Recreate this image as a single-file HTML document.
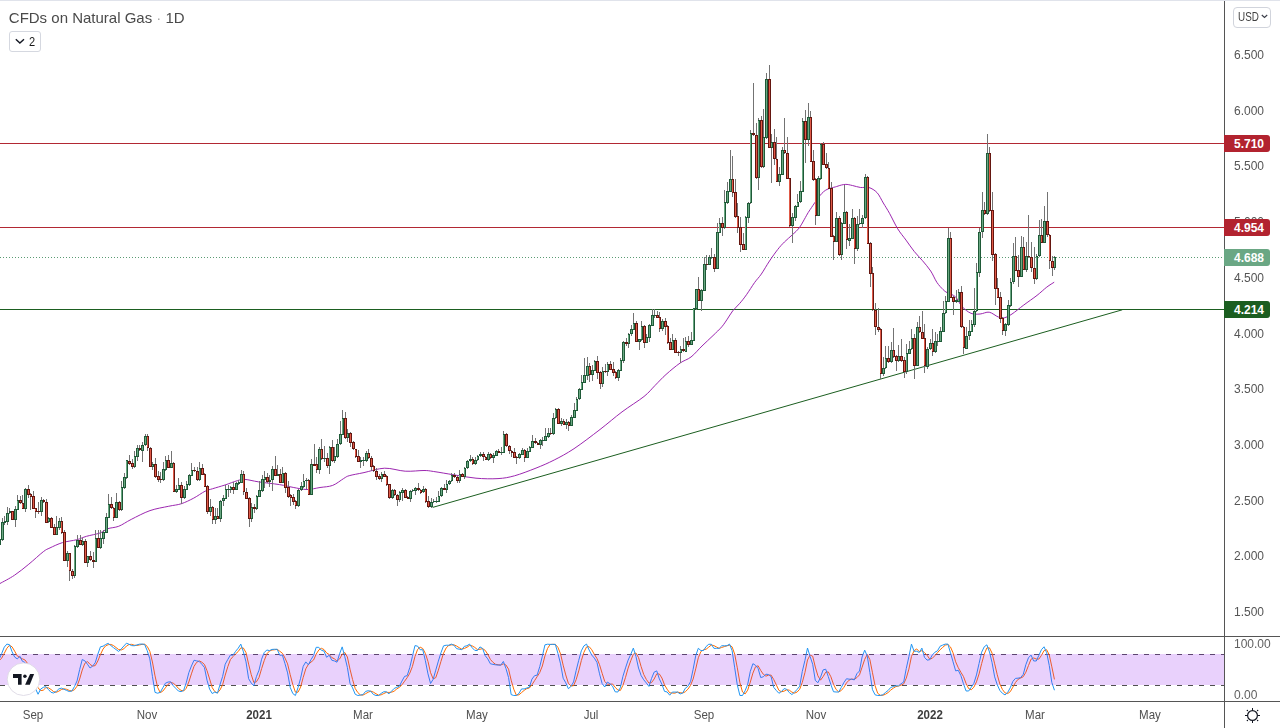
<!DOCTYPE html>
<html><head><meta charset="utf-8"><style>
*{margin:0;padding:0;box-sizing:border-box}
html,body{width:1280px;height:728px;overflow:hidden;background:#fff;font-family:"Liberation Sans",sans-serif}
#wrap{position:relative;width:1280px;height:728px}
.title,.pl,.tl,.sl,.btn .n,.usd span{filter:grayscale(1)}
.topb{position:absolute;left:0;top:0;width:1280px;height:1px;background:#e0e3eb}
.title{position:absolute;left:8.8px;top:9px;font-size:15px;color:#4a4a4f;white-space:nowrap}
.btn{position:absolute;left:9px;top:31px;width:32px;height:21px;border:1px solid #d5d8e0;border-radius:3px;font-size:14px;color:#131722}
.btn .n{position:absolute;left:19.3px;top:2px;font-size:13px;line-height:15px;transform:scaleX(0.85);transform-origin:0 0}
.btn svg{position:absolute;left:4.5px;top:5.6px}
svg.main{position:absolute;left:0;top:0}
.vax{position:absolute;left:1224px;top:1px;width:1px;height:727px;background:#555}
.h1{position:absolute;left:0;top:636px;width:1280px;height:1px;background:#555}
.h2{position:absolute;left:0;top:701px;width:1280px;height:1px;background:#555}
.pl{position:absolute;left:1234px;font-size:12px;color:#555;line-height:14px}
.bd{position:absolute;left:1224px;width:46px;height:17px;border-radius:0 3px 3px 0;color:#fff;font-weight:bold;font-size:12px;line-height:17px;padding-left:10px;padding-top:1px}
.usd{position:absolute;left:1233px;top:7px;width:38px;height:21px;border:1px solid #d1d4dc;border-radius:4px}
.usd span{position:absolute;left:4px;top:2px;font-size:12.5px;line-height:14px;color:#3c3f4a;transform:scaleX(0.79);transform-origin:0 0}
.tl{position:absolute;top:707.5px;width:40px;text-align:center;font-size:12.4px;color:#505050;line-height:14px;transform:scaleX(0.93)}
.sl{position:absolute;left:1234px;font-size:12px;color:#5d606b;line-height:14px}
.logo{position:absolute;left:8px;top:663px;width:32px;height:32px;border-radius:50%;background:#fff;border:1px solid #e6e6ea}
</style></head><body><div id="wrap">
<svg class="main" width="1224" height="728" viewBox="0 0 1224 728">
<defs><clipPath id="cm"><rect x="0" y="1" width="1224" height="635"/></clipPath><clipPath id="cs"><rect x="0" y="637" width="1224" height="64"/></clipPath></defs>
<g clip-path="url(#cm)"><line x1="0" y1="143.5" x2="1224" y2="143.5" stroke="#b22833" stroke-width="1"/><line x1="0" y1="227.5" x2="1224" y2="227.5" stroke="#b22833" stroke-width="1"/><line x1="0" y1="309.5" x2="1224" y2="309.5" stroke="#1b5e20" stroke-width="1"/><line x1="0" y1="257.5" x2="1224" y2="257.5" stroke="#5a9b73" stroke-width="1" stroke-dasharray="1 2" shape-rendering="crispEdges"/><line x1="432.7" y1="507.4" x2="1122.3" y2="309.8" stroke="#1b5e20" stroke-width="1"/><path d="M0.00 583.50C2.40 582.13 9.60 578.52 14.40 575.30C19.20 572.08 23.98 568.13 28.80 564.20C33.62 560.27 39.77 554.42 43.30 551.70C46.83 548.98 46.80 549.42 50.00 547.90C53.20 546.38 58.02 543.97 62.50 542.60C66.98 541.23 72.90 540.75 76.90 539.70C80.90 538.65 82.65 537.42 86.50 536.30C90.35 535.18 96.50 534.26 100.00 533.00C103.50 531.74 104.38 529.88 107.50 528.75C110.62 527.62 114.79 527.81 118.75 526.25C122.71 524.69 126.04 522.01 131.25 519.40C136.46 516.79 143.75 512.79 150.00 510.60C156.25 508.41 163.54 507.39 168.75 506.25C173.96 505.11 177.08 505.11 181.25 503.75C185.42 502.39 189.79 500.18 193.75 498.10C197.71 496.02 201.88 492.81 205.00 491.25C208.12 489.69 209.17 489.79 212.50 488.75C215.83 487.71 220.83 486.36 225.00 485.00C229.17 483.64 234.17 481.53 237.50 480.60C240.83 479.67 241.46 479.18 245.00 479.40C248.54 479.62 253.00 481.03 258.75 481.90C264.50 482.77 273.76 483.68 279.50 484.60C285.24 485.52 288.62 486.58 293.20 487.40C297.78 488.22 302.53 489.48 307.00 489.50C311.47 489.52 315.72 488.18 320.00 487.50C324.28 486.82 328.75 486.90 332.70 485.40C336.65 483.90 340.95 480.12 343.70 478.50C346.45 476.88 345.82 476.68 349.20 475.70C352.58 474.72 358.10 473.85 364.00 472.60C369.90 471.35 377.73 468.43 384.60 468.20C391.47 467.97 398.63 470.82 405.20 471.20C411.77 471.58 419.25 470.45 424.00 470.50C428.75 470.55 428.65 470.77 433.70 471.50C438.75 472.23 447.25 473.78 454.30 474.90C461.35 476.02 468.72 477.58 476.00 478.20C483.28 478.82 491.58 479.00 498.00 478.60C504.42 478.20 508.17 477.55 514.50 475.80C520.83 474.05 529.38 470.73 536.00 468.10C542.62 465.47 547.87 463.23 554.20 460.00C560.53 456.77 566.37 453.78 574.00 448.70C581.63 443.62 592.00 435.63 600.00 429.50C608.00 423.37 614.67 417.40 622.00 411.90C629.33 406.40 638.50 400.90 644.00 396.50C649.50 392.10 651.33 389.17 655.00 385.50C658.67 381.83 661.83 378.23 666.00 374.50C670.17 370.77 675.83 366.02 680.00 363.10C684.17 360.18 687.33 359.85 691.00 357.00C694.67 354.15 698.33 349.57 702.00 346.00C705.67 342.43 709.70 338.80 713.00 335.60C716.30 332.40 719.42 329.55 721.80 326.80C724.18 324.05 725.48 321.75 727.30 319.10C729.12 316.45 730.60 313.55 732.70 310.90C734.80 308.25 737.60 305.90 739.90 303.20C742.20 300.50 744.03 298.17 746.50 294.70C748.97 291.23 752.23 285.83 754.70 282.40C757.17 278.97 758.83 277.67 761.30 274.10C763.77 270.53 766.75 265.12 769.50 261.00C772.25 256.88 775.32 252.57 777.80 249.40C780.28 246.23 781.93 244.47 784.40 242.00C786.87 239.53 790.13 236.93 792.60 234.60C795.07 232.27 797.28 230.47 799.20 228.00C801.12 225.53 802.27 222.88 804.10 219.80C805.93 216.72 806.95 214.18 810.20 209.50C813.45 204.82 819.18 195.53 823.60 191.70C828.02 187.87 833.10 187.72 836.70 186.50C840.30 185.28 842.58 184.57 845.20 184.40C847.82 184.23 849.83 184.98 852.40 185.50C854.97 186.02 857.85 187.17 860.60 187.50C863.35 187.83 866.15 186.63 868.90 187.50C871.65 188.37 874.70 190.12 877.10 192.70C879.50 195.28 881.23 199.57 883.30 203.00C885.37 206.43 887.10 209.00 889.50 213.30C891.90 217.60 894.95 224.33 897.70 228.80C900.45 233.27 903.25 236.33 906.00 240.10C908.75 243.87 911.45 247.97 914.20 251.40C916.95 254.83 919.75 257.43 922.50 260.70C925.25 263.97 928.30 267.38 930.70 271.00C933.10 274.62 934.83 279.30 936.90 282.40C938.97 285.50 941.38 287.88 943.10 289.60C944.82 291.32 945.13 291.50 947.20 292.70C949.27 293.90 953.03 294.50 955.50 296.80C957.97 299.10 959.42 303.75 962.00 306.50C964.58 309.25 967.98 312.05 971.00 313.30C974.02 314.55 977.07 314.18 980.10 314.00C983.13 313.82 986.17 311.70 989.20 312.20C992.23 312.70 995.78 316.07 998.30 317.00C1000.82 317.93 1002.02 318.30 1004.30 317.80C1006.58 317.30 1008.75 316.13 1012.00 314.00C1015.25 311.87 1019.63 308.10 1023.80 305.00C1027.97 301.90 1033.17 298.38 1037.00 295.40C1040.83 292.42 1043.93 289.30 1046.80 287.10C1049.67 284.90 1052.97 283.02 1054.20 282.20" fill="none" stroke="#9c27b0" stroke-width="1"/><g shape-rendering="crispEdges"><g fill="#737373"><rect x="-1" y="538" width="1" height="7"/><rect x="2" y="518" width="1" height="23"/><rect x="4" y="516" width="1" height="9"/><rect x="7" y="507" width="1" height="18"/><rect x="9" y="508" width="1" height="6"/><rect x="12" y="511" width="1" height="9"/><rect x="15" y="506" width="1" height="21"/><rect x="17" y="495" width="1" height="15"/><rect x="20" y="496" width="1" height="8"/><rect x="22" y="495" width="1" height="14"/><rect x="25" y="488" width="1" height="24"/><rect x="28" y="485" width="1" height="13"/><rect x="30" y="493" width="1" height="17"/><rect x="33" y="491" width="1" height="18"/><rect x="35" y="508" width="1" height="10"/><rect x="38" y="502" width="1" height="12"/><rect x="41" y="497" width="1" height="19"/><rect x="43" y="499" width="1" height="4"/><rect x="46" y="499" width="1" height="24"/><rect x="48" y="517" width="1" height="6"/><rect x="51" y="517" width="1" height="11"/><rect x="54" y="524" width="1" height="11"/><rect x="56" y="516" width="1" height="19"/><rect x="59" y="518" width="1" height="12"/><rect x="61" y="517" width="1" height="17"/><rect x="64" y="530" width="1" height="31"/><rect x="67" y="551" width="1" height="16"/><rect x="69" y="553" width="1" height="28"/><rect x="72" y="569" width="1" height="10"/><rect x="74" y="545" width="1" height="33"/><rect x="77" y="535" width="1" height="13"/><rect x="80" y="535" width="1" height="10"/><rect x="82" y="538" width="1" height="8"/><rect x="85" y="539" width="1" height="24"/><rect x="87" y="556" width="1" height="11"/><rect x="90" y="551" width="1" height="10"/><rect x="93" y="552" width="1" height="16"/><rect x="95" y="530" width="1" height="32"/><rect x="98" y="530" width="1" height="18"/><rect x="100" y="530" width="1" height="19"/><rect x="103" y="530" width="1" height="14"/><rect x="106" y="513" width="1" height="20"/><rect x="108" y="494" width="1" height="24"/><rect x="111" y="497" width="1" height="12"/><rect x="113" y="507" width="1" height="14"/><rect x="116" y="493" width="1" height="25"/><rect x="119" y="501" width="1" height="10"/><rect x="121" y="481" width="1" height="30"/><rect x="124" y="473" width="1" height="16"/><rect x="126" y="460" width="1" height="19"/><rect x="129" y="455" width="1" height="10"/><rect x="132" y="459" width="1" height="10"/><rect x="134" y="451" width="1" height="17"/><rect x="137" y="445" width="1" height="16"/><rect x="139" y="445" width="1" height="6"/><rect x="142" y="442" width="1" height="20"/><rect x="145" y="434" width="1" height="12"/><rect x="147" y="434" width="1" height="17"/><rect x="150" y="447" width="1" height="20"/><rect x="152" y="462" width="1" height="8"/><rect x="155" y="458" width="1" height="20"/><rect x="158" y="471" width="1" height="11"/><rect x="160" y="472" width="1" height="11"/><rect x="163" y="462" width="1" height="19"/><rect x="165" y="456" width="1" height="15"/><rect x="168" y="455" width="1" height="13"/><rect x="171" y="451" width="1" height="17"/><rect x="173" y="462" width="1" height="30"/><rect x="176" y="485" width="1" height="8"/><rect x="178" y="478" width="1" height="12"/><rect x="181" y="482" width="1" height="22"/><rect x="184" y="486" width="1" height="13"/><rect x="186" y="481" width="1" height="9"/><rect x="189" y="474" width="1" height="12"/><rect x="191" y="463" width="1" height="13"/><rect x="194" y="467" width="1" height="5"/><rect x="197" y="467" width="1" height="14"/><rect x="199" y="462" width="1" height="19"/><rect x="202" y="464" width="1" height="11"/><rect x="204" y="473" width="1" height="14"/><rect x="207" y="485" width="1" height="29"/><rect x="210" y="499" width="1" height="17"/><rect x="212" y="506" width="1" height="18"/><rect x="215" y="508" width="1" height="16"/><rect x="217" y="508" width="1" height="11"/><rect x="220" y="500" width="1" height="22"/><rect x="223" y="495" width="1" height="11"/><rect x="225" y="485" width="1" height="14"/><rect x="228" y="485" width="1" height="12"/><rect x="230" y="486" width="1" height="7"/><rect x="233" y="482" width="1" height="12"/><rect x="236" y="482" width="1" height="8"/><rect x="238" y="480" width="1" height="5"/><rect x="241" y="470" width="1" height="13"/><rect x="243" y="471" width="1" height="24"/><rect x="246" y="488" width="1" height="11"/><rect x="249" y="497" width="1" height="30"/><rect x="251" y="503" width="1" height="19"/><rect x="254" y="504" width="1" height="9"/><rect x="256" y="495" width="1" height="15"/><rect x="259" y="481" width="1" height="16"/><rect x="262" y="475" width="1" height="17"/><rect x="264" y="471" width="1" height="17"/><rect x="267" y="473" width="1" height="10"/><rect x="269" y="475" width="1" height="12"/><rect x="272" y="466" width="1" height="25"/><rect x="275" y="456" width="1" height="20"/><rect x="277" y="465" width="1" height="11"/><rect x="280" y="469" width="1" height="14"/><rect x="282" y="467" width="1" height="16"/><rect x="285" y="472" width="1" height="21"/><rect x="288" y="481" width="1" height="17"/><rect x="290" y="494" width="1" height="12"/><rect x="293" y="494" width="1" height="11"/><rect x="295" y="500" width="1" height="9"/><rect x="298" y="489" width="1" height="18"/><rect x="301" y="482" width="1" height="9"/><rect x="303" y="474" width="1" height="14"/><rect x="306" y="478" width="1" height="11"/><rect x="308" y="479" width="1" height="16"/><rect x="311" y="459" width="1" height="36"/><rect x="314" y="444" width="1" height="22"/><rect x="316" y="457" width="1" height="16"/><rect x="319" y="447" width="1" height="27"/><rect x="321" y="439" width="1" height="21"/><rect x="324" y="446" width="1" height="16"/><rect x="327" y="453" width="1" height="15"/><rect x="329" y="446" width="1" height="28"/><rect x="332" y="440" width="1" height="22"/><rect x="334" y="447" width="1" height="16"/><rect x="337" y="439" width="1" height="19"/><rect x="340" y="421" width="1" height="24"/><rect x="342" y="410" width="1" height="25"/><rect x="345" y="412" width="1" height="27"/><rect x="347" y="429" width="1" height="13"/><rect x="350" y="432" width="1" height="15"/><rect x="353" y="441" width="1" height="9"/><rect x="355" y="449" width="1" height="9"/><rect x="358" y="450" width="1" height="12"/><rect x="360" y="457" width="1" height="11"/><rect x="363" y="457" width="1" height="9"/><rect x="366" y="451" width="1" height="11"/><rect x="368" y="449" width="1" height="10"/><rect x="371" y="456" width="1" height="15"/><rect x="373" y="465" width="1" height="7"/><rect x="376" y="468" width="1" height="12"/><rect x="379" y="474" width="1" height="6"/><rect x="381" y="472" width="1" height="10"/><rect x="384" y="471" width="1" height="6"/><rect x="386" y="475" width="1" height="11"/><rect x="389" y="484" width="1" height="15"/><rect x="392" y="489" width="1" height="10"/><rect x="394" y="489" width="1" height="7"/><rect x="397" y="494" width="1" height="12"/><rect x="399" y="491" width="1" height="11"/><rect x="402" y="488" width="1" height="13"/><rect x="405" y="489" width="1" height="9"/><rect x="407" y="496" width="1" height="3"/><rect x="410" y="490" width="1" height="12"/><rect x="412" y="489" width="1" height="3"/><rect x="415" y="487" width="1" height="8"/><rect x="418" y="483" width="1" height="8"/><rect x="420" y="489" width="1" height="5"/><rect x="423" y="486" width="1" height="7"/><rect x="425" y="488" width="1" height="15"/><rect x="428" y="496" width="1" height="12"/><rect x="431" y="498" width="1" height="10"/><rect x="433" y="499" width="1" height="4"/><rect x="436" y="497" width="1" height="6"/><rect x="438" y="491" width="1" height="11"/><rect x="441" y="487" width="1" height="10"/><rect x="444" y="484" width="1" height="6"/><rect x="446" y="480" width="1" height="13"/><rect x="449" y="480" width="1" height="5"/><rect x="451" y="473" width="1" height="9"/><rect x="454" y="473" width="1" height="5"/><rect x="457" y="476" width="1" height="7"/><rect x="459" y="470" width="1" height="13"/><rect x="462" y="473" width="1" height="4"/><rect x="464" y="467" width="1" height="12"/><rect x="467" y="460" width="1" height="9"/><rect x="470" y="455" width="1" height="7"/><rect x="472" y="457" width="1" height="8"/><rect x="475" y="457" width="1" height="8"/><rect x="477" y="455" width="1" height="6"/><rect x="480" y="452" width="1" height="5"/><rect x="483" y="452" width="1" height="9"/><rect x="485" y="456" width="1" height="4"/><rect x="488" y="452" width="1" height="9"/><rect x="490" y="453" width="1" height="6"/><rect x="493" y="453" width="1" height="10"/><rect x="496" y="450" width="1" height="6"/><rect x="498" y="449" width="1" height="4"/><rect x="501" y="447" width="1" height="8"/><rect x="503" y="431" width="1" height="22"/><rect x="506" y="433" width="1" height="14"/><rect x="509" y="445" width="1" height="9"/><rect x="511" y="450" width="1" height="7"/><rect x="514" y="448" width="1" height="10"/><rect x="516" y="456" width="1" height="8"/><rect x="519" y="453" width="1" height="6"/><rect x="522" y="448" width="1" height="7"/><rect x="524" y="449" width="1" height="13"/><rect x="527" y="448" width="1" height="10"/><rect x="529" y="446" width="1" height="6"/><rect x="532" y="435" width="1" height="13"/><rect x="535" y="438" width="1" height="6"/><rect x="537" y="442" width="1" height="3"/><rect x="540" y="439" width="1" height="10"/><rect x="542" y="437" width="1" height="9"/><rect x="545" y="428" width="1" height="13"/><rect x="548" y="428" width="1" height="10"/><rect x="550" y="428" width="1" height="7"/><rect x="553" y="413" width="1" height="22"/><rect x="555" y="408" width="1" height="11"/><rect x="558" y="408" width="1" height="16"/><rect x="561" y="418" width="1" height="8"/><rect x="563" y="419" width="1" height="6"/><rect x="566" y="419" width="1" height="10"/><rect x="568" y="421" width="1" height="10"/><rect x="571" y="415" width="1" height="11"/><rect x="574" y="403" width="1" height="15"/><rect x="576" y="397" width="1" height="14"/><rect x="579" y="388" width="1" height="12"/><rect x="581" y="375" width="1" height="15"/><rect x="584" y="358" width="1" height="25"/><rect x="587" y="357" width="1" height="23"/><rect x="589" y="363" width="1" height="19"/><rect x="592" y="365" width="1" height="16"/><rect x="594" y="360" width="1" height="11"/><rect x="597" y="356" width="1" height="23"/><rect x="600" y="371" width="1" height="18"/><rect x="602" y="367" width="1" height="20"/><rect x="605" y="364" width="1" height="9"/><rect x="607" y="362" width="1" height="14"/><rect x="610" y="361" width="1" height="9"/><rect x="613" y="362" width="1" height="14"/><rect x="615" y="371" width="1" height="8"/><rect x="618" y="369" width="1" height="12"/><rect x="620" y="358" width="1" height="13"/><rect x="623" y="341" width="1" height="22"/><rect x="626" y="338" width="1" height="8"/><rect x="628" y="333" width="1" height="15"/><rect x="631" y="325" width="1" height="11"/><rect x="633" y="313" width="1" height="17"/><rect x="636" y="321" width="1" height="21"/><rect x="639" y="339" width="1" height="11"/><rect x="641" y="321" width="1" height="20"/><rect x="644" y="325" width="1" height="23"/><rect x="646" y="334" width="1" height="9"/><rect x="649" y="324" width="1" height="18"/><rect x="652" y="309" width="1" height="17"/><rect x="654" y="309" width="1" height="9"/><rect x="657" y="311" width="1" height="7"/><rect x="659" y="312" width="1" height="20"/><rect x="662" y="319" width="1" height="12"/><rect x="665" y="318" width="1" height="17"/><rect x="667" y="325" width="1" height="19"/><rect x="670" y="338" width="1" height="12"/><rect x="672" y="334" width="1" height="16"/><rect x="675" y="338" width="1" height="15"/><rect x="678" y="351" width="1" height="5"/><rect x="680" y="346" width="1" height="17"/><rect x="683" y="338" width="1" height="14"/><rect x="685" y="337" width="1" height="15"/><rect x="688" y="336" width="1" height="11"/><rect x="691" y="332" width="1" height="13"/><rect x="693" y="308" width="1" height="33"/><rect x="696" y="289" width="1" height="21"/><rect x="698" y="277" width="1" height="24"/><rect x="701" y="289" width="1" height="22"/><rect x="704" y="257" width="1" height="34"/><rect x="706" y="255" width="1" height="15"/><rect x="709" y="255" width="1" height="10"/><rect x="711" y="248" width="1" height="11"/><rect x="714" y="254" width="1" height="18"/><rect x="717" y="223" width="1" height="46"/><rect x="719" y="218" width="1" height="15"/><rect x="722" y="217" width="1" height="19"/><rect x="724" y="190" width="1" height="39"/><rect x="727" y="182" width="1" height="22"/><rect x="730" y="150" width="1" height="42"/><rect x="732" y="156" width="1" height="41"/><rect x="735" y="179" width="1" height="39"/><rect x="737" y="203" width="1" height="30"/><rect x="740" y="217" width="1" height="35"/><rect x="743" y="233" width="1" height="17"/><rect x="745" y="216" width="1" height="34"/><rect x="748" y="202" width="1" height="21"/><rect x="750" y="130" width="1" height="74"/><rect x="753" y="83" width="1" height="53"/><rect x="756" y="123" width="1" height="56"/><rect x="758" y="118" width="1" height="72"/><rect x="761" y="116" width="1" height="52"/><rect x="763" y="109" width="1" height="59"/><rect x="766" y="73" width="1" height="66"/><rect x="769" y="65" width="1" height="83"/><rect x="771" y="134" width="1" height="49"/><rect x="774" y="129" width="1" height="36"/><rect x="776" y="137" width="1" height="45"/><rect x="779" y="167" width="1" height="19"/><rect x="782" y="147" width="1" height="28"/><rect x="784" y="118" width="1" height="36"/><rect x="787" y="137" width="1" height="42"/><rect x="789" y="178" width="1" height="49"/><rect x="792" y="213" width="1" height="30"/><rect x="795" y="205" width="1" height="16"/><rect x="797" y="194" width="1" height="13"/><rect x="800" y="181" width="1" height="22"/><rect x="802" y="118" width="1" height="74"/><rect x="805" y="110" width="1" height="53"/><rect x="808" y="103" width="1" height="43"/><rect x="810" y="111" width="1" height="51"/><rect x="813" y="150" width="1" height="31"/><rect x="815" y="178" width="1" height="47"/><rect x="818" y="176" width="1" height="40"/><rect x="820" y="143" width="1" height="37"/><rect x="823" y="142" width="1" height="23"/><rect x="826" y="153" width="1" height="16"/><rect x="828" y="162" width="1" height="27"/><rect x="831" y="182" width="1" height="55"/><rect x="833" y="235" width="1" height="25"/><rect x="836" y="212" width="1" height="30"/><rect x="839" y="216" width="1" height="40"/><rect x="841" y="222" width="1" height="38"/><rect x="844" y="185" width="1" height="39"/><rect x="846" y="211" width="1" height="38"/><rect x="849" y="224" width="1" height="22"/><rect x="852" y="209" width="1" height="30"/><rect x="854" y="217" width="1" height="47"/><rect x="857" y="216" width="1" height="35"/><rect x="859" y="209" width="1" height="16"/><rect x="862" y="215" width="1" height="13"/><rect x="865" y="174" width="1" height="45"/><rect x="867" y="176" width="1" height="68"/><rect x="870" y="242" width="1" height="45"/><rect x="872" y="267" width="1" height="44"/><rect x="875" y="303" width="1" height="32"/><rect x="878" y="308" width="1" height="24"/><rect x="880" y="328" width="1" height="51"/><rect x="883" y="357" width="1" height="19"/><rect x="885" y="346" width="1" height="23"/><rect x="888" y="346" width="1" height="17"/><rect x="891" y="342" width="1" height="21"/><rect x="893" y="328" width="1" height="30"/><rect x="896" y="355" width="1" height="16"/><rect x="898" y="345" width="1" height="17"/><rect x="901" y="339" width="1" height="23"/><rect x="904" y="357" width="1" height="21"/><rect x="906" y="344" width="1" height="30"/><rect x="909" y="341" width="1" height="13"/><rect x="911" y="329" width="1" height="21"/><rect x="914" y="334" width="1" height="45"/><rect x="917" y="322" width="1" height="44"/><rect x="919" y="316" width="1" height="17"/><rect x="922" y="311" width="1" height="28"/><rect x="924" y="324" width="1" height="49"/><rect x="927" y="347" width="1" height="22"/><rect x="930" y="339" width="1" height="11"/><rect x="932" y="329" width="1" height="27"/><rect x="935" y="332" width="1" height="21"/><rect x="937" y="334" width="1" height="12"/><rect x="940" y="327" width="1" height="15"/><rect x="943" y="301" width="1" height="31"/><rect x="945" y="296" width="1" height="18"/><rect x="948" y="228" width="1" height="74"/><rect x="950" y="232" width="1" height="66"/><rect x="953" y="296" width="1" height="19"/><rect x="956" y="290" width="1" height="13"/><rect x="958" y="289" width="1" height="13"/><rect x="961" y="286" width="1" height="42"/><rect x="963" y="326" width="1" height="28"/><rect x="966" y="327" width="1" height="22"/><rect x="969" y="320" width="1" height="20"/><rect x="971" y="320" width="1" height="12"/><rect x="974" y="288" width="1" height="39"/><rect x="976" y="263" width="1" height="49"/><rect x="979" y="228" width="1" height="49"/><rect x="982" y="192" width="1" height="46"/><rect x="984" y="202" width="1" height="13"/><rect x="987" y="134" width="1" height="81"/><rect x="989" y="147" width="1" height="65"/><rect x="992" y="192" width="1" height="69"/><rect x="995" y="253" width="1" height="52"/><rect x="997" y="278" width="1" height="20"/><rect x="1000" y="292" width="1" height="31"/><rect x="1002" y="317" width="1" height="18"/><rect x="1005" y="323" width="1" height="13"/><rect x="1008" y="300" width="1" height="26"/><rect x="1010" y="278" width="1" height="29"/><rect x="1013" y="243" width="1" height="41"/><rect x="1015" y="237" width="1" height="34"/><rect x="1018" y="255" width="1" height="32"/><rect x="1021" y="236" width="1" height="41"/><rect x="1023" y="237" width="1" height="33"/><rect x="1026" y="242" width="1" height="30"/><rect x="1028" y="215" width="1" height="43"/><rect x="1031" y="242" width="1" height="30"/><rect x="1034" y="247" width="1" height="37"/><rect x="1036" y="254" width="1" height="26"/><rect x="1039" y="220" width="1" height="37"/><rect x="1041" y="219" width="1" height="24"/><rect x="1044" y="206" width="1" height="37"/><rect x="1047" y="192" width="1" height="45"/><rect x="1049" y="234" width="1" height="35"/><rect x="1052" y="256" width="1" height="20"/><rect x="1054" y="256" width="1" height="14"/></g><g fill="#1f5a38"><rect x="-2" y="539" width="3" height="6"/><rect x="1" y="522" width="3" height="18"/><rect x="4" y="521" width="2" height="2"/><rect x="6" y="513" width="3" height="9"/><rect x="9" y="511" width="2" height="2"/><rect x="14" y="509" width="3" height="11"/><rect x="17" y="500" width="2" height="10"/><rect x="24" y="489" width="3" height="20"/><rect x="40" y="500" width="3" height="12"/><rect x="48" y="518" width="2" height="4"/><rect x="56" y="527" width="2" height="8"/><rect x="58" y="521" width="3" height="7"/><rect x="66" y="553" width="3" height="8"/><rect x="74" y="546" width="2" height="30"/><rect x="76" y="540" width="3" height="7"/><rect x="82" y="541" width="2" height="4"/><rect x="87" y="556" width="2" height="7"/><rect x="95" y="538" width="2" height="24"/><rect x="100" y="538" width="2" height="10"/><rect x="102" y="532" width="3" height="7"/><rect x="105" y="517" width="3" height="16"/><rect x="108" y="504" width="2" height="14"/><rect x="115" y="502" width="3" height="16"/><rect x="121" y="487" width="2" height="23"/><rect x="123" y="477" width="3" height="11"/><rect x="126" y="460" width="2" height="18"/><rect x="134" y="456" width="2" height="11"/><rect x="136" y="448" width="3" height="9"/><rect x="141" y="445" width="3" height="6"/><rect x="144" y="436" width="3" height="9"/><rect x="152" y="464" width="2" height="3"/><rect x="162" y="469" width="3" height="11"/><rect x="165" y="460" width="2" height="10"/><rect x="170" y="463" width="3" height="5"/><rect x="175" y="489" width="3" height="3"/><rect x="178" y="485" width="2" height="5"/><rect x="183" y="489" width="3" height="9"/><rect x="186" y="484" width="2" height="6"/><rect x="188" y="475" width="3" height="10"/><rect x="191" y="470" width="2" height="6"/><rect x="199" y="468" width="2" height="12"/><rect x="209" y="507" width="3" height="5"/><rect x="214" y="516" width="3" height="4"/><rect x="219" y="501" width="3" height="18"/><rect x="222" y="498" width="3" height="3"/><rect x="225" y="489" width="2" height="10"/><rect x="227" y="489" width="3" height="1"/><rect x="230" y="487" width="2" height="3"/><rect x="235" y="483" width="3" height="7"/><rect x="238" y="482" width="2" height="2"/><rect x="240" y="474" width="3" height="9"/><rect x="251" y="507" width="2" height="12"/><rect x="256" y="496" width="2" height="13"/><rect x="258" y="490" width="3" height="7"/><rect x="261" y="479" width="3" height="12"/><rect x="264" y="477" width="2" height="3"/><rect x="269" y="480" width="2" height="2"/><rect x="271" y="469" width="3" height="11"/><rect x="277" y="474" width="2" height="2"/><rect x="282" y="473" width="2" height="10"/><rect x="297" y="490" width="3" height="16"/><rect x="300" y="486" width="3" height="4"/><rect x="303" y="481" width="2" height="6"/><rect x="305" y="480" width="3" height="1"/><rect x="310" y="464" width="3" height="31"/><rect x="318" y="449" width="3" height="21"/><rect x="323" y="458" width="3" height="1"/><rect x="329" y="447" width="2" height="19"/><rect x="334" y="456" width="2" height="5"/><rect x="336" y="444" width="3" height="13"/><rect x="339" y="434" width="3" height="10"/><rect x="342" y="418" width="2" height="17"/><rect x="347" y="433" width="2" height="5"/><rect x="360" y="460" width="2" height="2"/><rect x="362" y="460" width="3" height="1"/><rect x="365" y="453" width="3" height="8"/><rect x="381" y="474" width="2" height="5"/><rect x="391" y="490" width="3" height="8"/><rect x="399" y="492" width="2" height="8"/><rect x="401" y="490" width="3" height="3"/><rect x="409" y="491" width="3" height="8"/><rect x="412" y="490" width="2" height="1"/><rect x="414" y="488" width="3" height="3"/><rect x="422" y="489" width="3" height="3"/><rect x="430" y="502" width="3" height="5"/><rect x="433" y="501" width="2" height="1"/><rect x="435" y="501" width="3" height="1"/><rect x="438" y="496" width="2" height="6"/><rect x="440" y="488" width="3" height="8"/><rect x="446" y="484" width="2" height="6"/><rect x="448" y="481" width="3" height="3"/><rect x="451" y="475" width="2" height="6"/><rect x="459" y="474" width="2" height="7"/><rect x="464" y="468" width="2" height="9"/><rect x="466" y="461" width="3" height="7"/><rect x="469" y="459" width="3" height="2"/><rect x="474" y="460" width="3" height="4"/><rect x="477" y="456" width="2" height="4"/><rect x="479" y="454" width="3" height="2"/><rect x="487" y="454" width="3" height="6"/><rect x="492" y="455" width="3" height="3"/><rect x="495" y="451" width="3" height="5"/><rect x="500" y="452" width="3" height="1"/><rect x="503" y="434" width="2" height="19"/><rect x="518" y="454" width="3" height="4"/><rect x="521" y="450" width="3" height="5"/><rect x="526" y="451" width="3" height="7"/><rect x="529" y="447" width="2" height="5"/><rect x="531" y="441" width="3" height="7"/><rect x="539" y="440" width="3" height="5"/><rect x="542" y="440" width="2" height="1"/><rect x="544" y="436" width="3" height="5"/><rect x="547" y="433" width="3" height="4"/><rect x="552" y="418" width="3" height="16"/><rect x="555" y="409" width="2" height="9"/><rect x="560" y="421" width="3" height="3"/><rect x="565" y="422" width="3" height="3"/><rect x="570" y="417" width="3" height="9"/><rect x="573" y="410" width="3" height="8"/><rect x="576" y="399" width="2" height="12"/><rect x="578" y="389" width="3" height="10"/><rect x="581" y="382" width="2" height="8"/><rect x="583" y="375" width="3" height="8"/><rect x="586" y="366" width="3" height="10"/><rect x="591" y="370" width="3" height="5"/><rect x="594" y="361" width="2" height="10"/><rect x="602" y="371" width="2" height="13"/><rect x="607" y="364" width="2" height="8"/><rect x="617" y="370" width="3" height="8"/><rect x="620" y="360" width="2" height="11"/><rect x="622" y="342" width="3" height="19"/><rect x="628" y="334" width="2" height="10"/><rect x="630" y="329" width="3" height="5"/><rect x="633" y="323" width="2" height="7"/><rect x="638" y="339" width="3" height="3"/><rect x="641" y="326" width="2" height="14"/><rect x="646" y="337" width="2" height="6"/><rect x="648" y="325" width="3" height="13"/><rect x="651" y="315" width="3" height="11"/><rect x="654" y="315" width="2" height="1"/><rect x="661" y="321" width="3" height="8"/><rect x="672" y="340" width="2" height="10"/><rect x="680" y="349" width="2" height="4"/><rect x="685" y="341" width="2" height="11"/><rect x="690" y="340" width="3" height="5"/><rect x="693" y="308" width="2" height="33"/><rect x="695" y="289" width="3" height="20"/><rect x="700" y="290" width="3" height="11"/><rect x="703" y="264" width="3" height="27"/><rect x="708" y="257" width="3" height="8"/><rect x="711" y="257" width="2" height="1"/><rect x="716" y="232" width="3" height="37"/><rect x="719" y="223" width="2" height="10"/><rect x="724" y="202" width="2" height="26"/><rect x="726" y="191" width="3" height="12"/><rect x="729" y="179" width="3" height="13"/><rect x="745" y="217" width="2" height="33"/><rect x="747" y="203" width="3" height="15"/><rect x="750" y="133" width="2" height="70"/><rect x="758" y="120" width="2" height="58"/><rect x="763" y="137" width="2" height="30"/><rect x="765" y="79" width="3" height="59"/><rect x="771" y="142" width="2" height="6"/><rect x="778" y="174" width="3" height="8"/><rect x="781" y="150" width="3" height="25"/><rect x="791" y="217" width="3" height="9"/><rect x="794" y="206" width="3" height="12"/><rect x="797" y="202" width="2" height="5"/><rect x="799" y="191" width="3" height="11"/><rect x="802" y="121" width="2" height="71"/><rect x="807" y="117" width="3" height="23"/><rect x="817" y="178" width="3" height="38"/><rect x="820" y="144" width="2" height="35"/><rect x="835" y="218" width="3" height="24"/><rect x="841" y="223" width="2" height="32"/><rect x="843" y="212" width="3" height="12"/><rect x="848" y="238" width="3" height="3"/><rect x="851" y="218" width="3" height="21"/><rect x="856" y="224" width="3" height="25"/><rect x="859" y="223" width="2" height="1"/><rect x="861" y="218" width="3" height="6"/><rect x="864" y="177" width="3" height="41"/><rect x="882" y="368" width="3" height="6"/><rect x="885" y="358" width="2" height="10"/><rect x="890" y="350" width="3" height="12"/><rect x="898" y="356" width="2" height="5"/><rect x="906" y="353" width="2" height="19"/><rect x="908" y="349" width="3" height="5"/><rect x="911" y="338" width="2" height="11"/><rect x="916" y="327" width="3" height="39"/><rect x="926" y="349" width="3" height="18"/><rect x="929" y="343" width="3" height="6"/><rect x="934" y="341" width="3" height="11"/><rect x="937" y="341" width="2" height="1"/><rect x="939" y="331" width="3" height="11"/><rect x="942" y="313" width="3" height="19"/><rect x="945" y="301" width="2" height="12"/><rect x="947" y="238" width="3" height="64"/><rect x="955" y="300" width="3" height="2"/><rect x="958" y="292" width="2" height="10"/><rect x="965" y="336" width="3" height="13"/><rect x="968" y="331" width="3" height="5"/><rect x="971" y="324" width="2" height="8"/><rect x="973" y="311" width="3" height="14"/><rect x="976" y="272" width="2" height="39"/><rect x="978" y="232" width="3" height="41"/><rect x="981" y="210" width="3" height="22"/><rect x="986" y="153" width="3" height="61"/><rect x="1004" y="324" width="3" height="7"/><rect x="1007" y="305" width="3" height="20"/><rect x="1010" y="282" width="2" height="24"/><rect x="1012" y="256" width="3" height="26"/><rect x="1020" y="247" width="3" height="30"/><rect x="1025" y="256" width="3" height="14"/><rect x="1036" y="256" width="2" height="23"/><rect x="1038" y="235" width="3" height="21"/><rect x="1043" y="221" width="3" height="22"/><rect x="1054" y="257" width="2" height="11"/></g><g fill="#641610"><rect x="11" y="511" width="3" height="9"/><rect x="19" y="500" width="3" height="3"/><rect x="22" y="503" width="2" height="6"/><rect x="27" y="489" width="3" height="6"/><rect x="30" y="494" width="2" height="3"/><rect x="32" y="496" width="3" height="13"/><rect x="35" y="508" width="2" height="4"/><rect x="37" y="511" width="3" height="1"/><rect x="43" y="500" width="2" height="2"/><rect x="45" y="502" width="3" height="21"/><rect x="50" y="518" width="3" height="10"/><rect x="53" y="527" width="3" height="8"/><rect x="61" y="521" width="2" height="12"/><rect x="63" y="532" width="3" height="29"/><rect x="69" y="553" width="2" height="18"/><rect x="71" y="571" width="3" height="5"/><rect x="79" y="540" width="3" height="5"/><rect x="84" y="541" width="3" height="22"/><rect x="89" y="556" width="3" height="4"/><rect x="92" y="560" width="3" height="2"/><rect x="97" y="538" width="3" height="10"/><rect x="110" y="504" width="3" height="4"/><rect x="113" y="508" width="2" height="10"/><rect x="118" y="502" width="3" height="8"/><rect x="128" y="461" width="3" height="3"/><rect x="131" y="463" width="3" height="4"/><rect x="139" y="448" width="2" height="2"/><rect x="147" y="436" width="2" height="12"/><rect x="149" y="448" width="3" height="19"/><rect x="154" y="464" width="3" height="13"/><rect x="157" y="476" width="3" height="4"/><rect x="160" y="479" width="2" height="1"/><rect x="167" y="460" width="3" height="8"/><rect x="173" y="463" width="2" height="29"/><rect x="180" y="485" width="3" height="13"/><rect x="193" y="470" width="3" height="1"/><rect x="196" y="471" width="3" height="9"/><rect x="201" y="468" width="3" height="7"/><rect x="204" y="474" width="2" height="13"/><rect x="206" y="486" width="3" height="26"/><rect x="212" y="507" width="2" height="13"/><rect x="217" y="516" width="2" height="3"/><rect x="232" y="487" width="3" height="3"/><rect x="243" y="474" width="2" height="18"/><rect x="245" y="492" width="3" height="7"/><rect x="248" y="498" width="3" height="21"/><rect x="253" y="507" width="3" height="2"/><rect x="266" y="477" width="3" height="5"/><rect x="274" y="469" width="3" height="7"/><rect x="279" y="474" width="3" height="9"/><rect x="284" y="473" width="3" height="15"/><rect x="287" y="487" width="3" height="10"/><rect x="290" y="495" width="2" height="3"/><rect x="292" y="497" width="3" height="5"/><rect x="295" y="501" width="2" height="5"/><rect x="308" y="480" width="2" height="15"/><rect x="313" y="464" width="3" height="2"/><rect x="316" y="464" width="2" height="6"/><rect x="321" y="449" width="2" height="10"/><rect x="326" y="458" width="3" height="8"/><rect x="331" y="447" width="3" height="14"/><rect x="344" y="418" width="3" height="20"/><rect x="349" y="433" width="3" height="10"/><rect x="352" y="442" width="3" height="7"/><rect x="355" y="449" width="2" height="8"/><rect x="357" y="456" width="3" height="6"/><rect x="368" y="453" width="2" height="5"/><rect x="370" y="458" width="3" height="9"/><rect x="373" y="466" width="2" height="5"/><rect x="375" y="471" width="3" height="6"/><rect x="378" y="476" width="3" height="3"/><rect x="383" y="474" width="3" height="3"/><rect x="386" y="476" width="2" height="9"/><rect x="388" y="484" width="3" height="14"/><rect x="394" y="490" width="2" height="5"/><rect x="396" y="495" width="3" height="5"/><rect x="404" y="490" width="3" height="8"/><rect x="407" y="497" width="2" height="2"/><rect x="417" y="488" width="3" height="2"/><rect x="420" y="490" width="2" height="3"/><rect x="425" y="489" width="2" height="13"/><rect x="427" y="501" width="3" height="6"/><rect x="443" y="488" width="3" height="2"/><rect x="453" y="475" width="3" height="2"/><rect x="456" y="477" width="3" height="4"/><rect x="461" y="474" width="3" height="3"/><rect x="472" y="459" width="2" height="5"/><rect x="482" y="454" width="3" height="3"/><rect x="485" y="457" width="2" height="3"/><rect x="490" y="454" width="2" height="4"/><rect x="498" y="451" width="2" height="2"/><rect x="505" y="434" width="3" height="12"/><rect x="508" y="446" width="3" height="5"/><rect x="511" y="451" width="2" height="2"/><rect x="513" y="452" width="3" height="6"/><rect x="516" y="457" width="2" height="1"/><rect x="524" y="450" width="2" height="8"/><rect x="534" y="441" width="3" height="2"/><rect x="537" y="443" width="2" height="2"/><rect x="550" y="433" width="2" height="1"/><rect x="557" y="409" width="3" height="15"/><rect x="563" y="421" width="2" height="4"/><rect x="568" y="422" width="2" height="4"/><rect x="589" y="366" width="2" height="9"/><rect x="596" y="361" width="3" height="12"/><rect x="599" y="372" width="3" height="12"/><rect x="604" y="371" width="3" height="1"/><rect x="609" y="364" width="3" height="6"/><rect x="612" y="369" width="3" height="4"/><rect x="615" y="372" width="2" height="6"/><rect x="625" y="342" width="3" height="2"/><rect x="635" y="323" width="3" height="19"/><rect x="643" y="326" width="3" height="17"/><rect x="656" y="315" width="3" height="3"/><rect x="659" y="317" width="2" height="12"/><rect x="664" y="321" width="3" height="6"/><rect x="667" y="326" width="2" height="17"/><rect x="669" y="342" width="3" height="8"/><rect x="674" y="340" width="3" height="13"/><rect x="677" y="352" width="3" height="1"/><rect x="682" y="349" width="3" height="2"/><rect x="687" y="341" width="3" height="4"/><rect x="698" y="289" width="2" height="12"/><rect x="706" y="264" width="2" height="1"/><rect x="713" y="257" width="3" height="12"/><rect x="721" y="223" width="3" height="5"/><rect x="732" y="179" width="2" height="14"/><rect x="734" y="192" width="3" height="25"/><rect x="737" y="216" width="2" height="12"/><rect x="739" y="227" width="3" height="18"/><rect x="742" y="244" width="3" height="6"/><rect x="752" y="133" width="3" height="2"/><rect x="755" y="135" width="3" height="43"/><rect x="760" y="120" width="3" height="47"/><rect x="768" y="79" width="3" height="69"/><rect x="773" y="142" width="3" height="17"/><rect x="776" y="159" width="2" height="23"/><rect x="784" y="150" width="2" height="3"/><rect x="786" y="153" width="3" height="26"/><rect x="789" y="178" width="2" height="48"/><rect x="804" y="121" width="3" height="19"/><rect x="810" y="117" width="2" height="45"/><rect x="812" y="161" width="3" height="19"/><rect x="815" y="179" width="2" height="37"/><rect x="822" y="144" width="3" height="21"/><rect x="825" y="164" width="3" height="4"/><rect x="828" y="168" width="2" height="21"/><rect x="830" y="188" width="3" height="49"/><rect x="833" y="236" width="2" height="6"/><rect x="838" y="218" width="3" height="37"/><rect x="846" y="212" width="2" height="28"/><rect x="854" y="218" width="2" height="31"/><rect x="867" y="177" width="2" height="67"/><rect x="869" y="243" width="3" height="31"/><rect x="872" y="273" width="2" height="37"/><rect x="874" y="310" width="3" height="17"/><rect x="877" y="327" width="3" height="3"/><rect x="880" y="329" width="2" height="45"/><rect x="887" y="358" width="3" height="4"/><rect x="893" y="350" width="2" height="7"/><rect x="895" y="356" width="3" height="5"/><rect x="900" y="356" width="3" height="5"/><rect x="903" y="360" width="3" height="12"/><rect x="913" y="338" width="3" height="28"/><rect x="919" y="327" width="2" height="5"/><rect x="921" y="332" width="3" height="7"/><rect x="924" y="338" width="2" height="28"/><rect x="932" y="343" width="2" height="9"/><rect x="950" y="238" width="2" height="60"/><rect x="952" y="297" width="3" height="5"/><rect x="960" y="292" width="3" height="35"/><rect x="963" y="327" width="2" height="21"/><rect x="984" y="210" width="2" height="4"/><rect x="989" y="153" width="2" height="58"/><rect x="991" y="210" width="3" height="45"/><rect x="994" y="254" width="3" height="35"/><rect x="997" y="288" width="2" height="10"/><rect x="999" y="297" width="3" height="22"/><rect x="1002" y="318" width="2" height="13"/><rect x="1015" y="256" width="2" height="15"/><rect x="1017" y="270" width="3" height="7"/><rect x="1023" y="247" width="2" height="23"/><rect x="1028" y="256" width="2" height="1"/><rect x="1030" y="257" width="3" height="11"/><rect x="1033" y="268" width="3" height="11"/><rect x="1041" y="235" width="2" height="8"/><rect x="1046" y="221" width="3" height="14"/><rect x="1049" y="235" width="2" height="26"/><rect x="1051" y="261" width="3" height="7"/></g><g fill="#6aa882"><rect x="-1" y="540" width="1" height="4"/><rect x="2" y="523" width="1" height="16"/><rect x="7" y="514" width="1" height="7"/><rect x="15" y="510" width="1" height="9"/><rect x="17" y="501" width="1" height="8"/><rect x="25" y="490" width="1" height="18"/><rect x="41" y="501" width="1" height="10"/><rect x="48" y="519" width="1" height="2"/><rect x="56" y="528" width="1" height="6"/><rect x="59" y="522" width="1" height="5"/><rect x="67" y="554" width="1" height="6"/><rect x="74" y="547" width="1" height="28"/><rect x="77" y="541" width="1" height="5"/><rect x="82" y="542" width="1" height="2"/><rect x="87" y="557" width="1" height="5"/><rect x="95" y="539" width="1" height="22"/><rect x="100" y="539" width="1" height="8"/><rect x="103" y="533" width="1" height="5"/><rect x="106" y="518" width="1" height="14"/><rect x="108" y="505" width="1" height="12"/><rect x="116" y="503" width="1" height="14"/><rect x="121" y="488" width="1" height="21"/><rect x="124" y="478" width="1" height="9"/><rect x="126" y="461" width="1" height="16"/><rect x="134" y="457" width="1" height="9"/><rect x="137" y="449" width="1" height="7"/><rect x="142" y="446" width="1" height="4"/><rect x="145" y="437" width="1" height="7"/><rect x="152" y="465" width="1" height="1"/><rect x="163" y="470" width="1" height="9"/><rect x="165" y="461" width="1" height="8"/><rect x="171" y="464" width="1" height="3"/><rect x="176" y="490" width="1" height="1"/><rect x="178" y="486" width="1" height="3"/><rect x="184" y="490" width="1" height="7"/><rect x="186" y="485" width="1" height="4"/><rect x="189" y="476" width="1" height="8"/><rect x="191" y="471" width="1" height="4"/><rect x="199" y="469" width="1" height="10"/><rect x="210" y="508" width="1" height="3"/><rect x="215" y="517" width="1" height="2"/><rect x="220" y="502" width="1" height="16"/><rect x="223" y="499" width="1" height="1"/><rect x="225" y="490" width="1" height="8"/><rect x="230" y="488" width="1" height="1"/><rect x="236" y="484" width="1" height="5"/><rect x="241" y="475" width="1" height="7"/><rect x="251" y="508" width="1" height="10"/><rect x="256" y="497" width="1" height="11"/><rect x="259" y="491" width="1" height="5"/><rect x="262" y="480" width="1" height="10"/><rect x="264" y="478" width="1" height="1"/><rect x="272" y="470" width="1" height="9"/><rect x="282" y="474" width="1" height="8"/><rect x="298" y="491" width="1" height="14"/><rect x="301" y="487" width="1" height="2"/><rect x="303" y="482" width="1" height="4"/><rect x="311" y="465" width="1" height="29"/><rect x="319" y="450" width="1" height="19"/><rect x="329" y="448" width="1" height="17"/><rect x="334" y="457" width="1" height="3"/><rect x="337" y="445" width="1" height="11"/><rect x="340" y="435" width="1" height="8"/><rect x="342" y="419" width="1" height="15"/><rect x="347" y="434" width="1" height="3"/><rect x="366" y="454" width="1" height="6"/><rect x="381" y="475" width="1" height="3"/><rect x="392" y="491" width="1" height="6"/><rect x="399" y="493" width="1" height="6"/><rect x="402" y="491" width="1" height="1"/><rect x="410" y="492" width="1" height="6"/><rect x="415" y="489" width="1" height="1"/><rect x="423" y="490" width="1" height="1"/><rect x="431" y="503" width="1" height="3"/><rect x="438" y="497" width="1" height="4"/><rect x="441" y="489" width="1" height="6"/><rect x="446" y="485" width="1" height="4"/><rect x="449" y="482" width="1" height="1"/><rect x="451" y="476" width="1" height="4"/><rect x="459" y="475" width="1" height="5"/><rect x="464" y="469" width="1" height="7"/><rect x="467" y="462" width="1" height="5"/><rect x="475" y="461" width="1" height="2"/><rect x="477" y="457" width="1" height="2"/><rect x="488" y="455" width="1" height="4"/><rect x="493" y="456" width="1" height="1"/><rect x="496" y="452" width="1" height="3"/><rect x="503" y="435" width="1" height="17"/><rect x="519" y="455" width="1" height="2"/><rect x="522" y="451" width="1" height="3"/><rect x="527" y="452" width="1" height="5"/><rect x="529" y="448" width="1" height="3"/><rect x="532" y="442" width="1" height="5"/><rect x="540" y="441" width="1" height="3"/><rect x="545" y="437" width="1" height="3"/><rect x="548" y="434" width="1" height="2"/><rect x="553" y="419" width="1" height="14"/><rect x="555" y="410" width="1" height="7"/><rect x="561" y="422" width="1" height="1"/><rect x="566" y="423" width="1" height="1"/><rect x="571" y="418" width="1" height="7"/><rect x="574" y="411" width="1" height="6"/><rect x="576" y="400" width="1" height="10"/><rect x="579" y="390" width="1" height="8"/><rect x="581" y="383" width="1" height="6"/><rect x="584" y="376" width="1" height="6"/><rect x="587" y="367" width="1" height="8"/><rect x="592" y="371" width="1" height="3"/><rect x="594" y="362" width="1" height="8"/><rect x="602" y="372" width="1" height="11"/><rect x="607" y="365" width="1" height="6"/><rect x="618" y="371" width="1" height="6"/><rect x="620" y="361" width="1" height="9"/><rect x="623" y="343" width="1" height="17"/><rect x="628" y="335" width="1" height="8"/><rect x="631" y="330" width="1" height="3"/><rect x="633" y="324" width="1" height="5"/><rect x="639" y="340" width="1" height="1"/><rect x="641" y="327" width="1" height="12"/><rect x="646" y="338" width="1" height="4"/><rect x="649" y="326" width="1" height="11"/><rect x="652" y="316" width="1" height="9"/><rect x="662" y="322" width="1" height="6"/><rect x="672" y="341" width="1" height="8"/><rect x="680" y="350" width="1" height="2"/><rect x="685" y="342" width="1" height="9"/><rect x="691" y="341" width="1" height="3"/><rect x="693" y="309" width="1" height="31"/><rect x="696" y="290" width="1" height="18"/><rect x="701" y="291" width="1" height="9"/><rect x="704" y="265" width="1" height="25"/><rect x="709" y="258" width="1" height="6"/><rect x="717" y="233" width="1" height="35"/><rect x="719" y="224" width="1" height="8"/><rect x="724" y="203" width="1" height="24"/><rect x="727" y="192" width="1" height="10"/><rect x="730" y="180" width="1" height="11"/><rect x="745" y="218" width="1" height="31"/><rect x="748" y="204" width="1" height="13"/><rect x="750" y="134" width="1" height="68"/><rect x="758" y="121" width="1" height="56"/><rect x="763" y="138" width="1" height="28"/><rect x="766" y="80" width="1" height="57"/><rect x="771" y="143" width="1" height="4"/><rect x="779" y="175" width="1" height="6"/><rect x="782" y="151" width="1" height="23"/><rect x="792" y="218" width="1" height="7"/><rect x="795" y="207" width="1" height="10"/><rect x="797" y="203" width="1" height="3"/><rect x="800" y="192" width="1" height="9"/><rect x="802" y="122" width="1" height="69"/><rect x="808" y="118" width="1" height="21"/><rect x="818" y="179" width="1" height="36"/><rect x="820" y="145" width="1" height="33"/><rect x="836" y="219" width="1" height="22"/><rect x="841" y="224" width="1" height="30"/><rect x="844" y="213" width="1" height="10"/><rect x="849" y="239" width="1" height="1"/><rect x="852" y="219" width="1" height="19"/><rect x="857" y="225" width="1" height="23"/><rect x="862" y="219" width="1" height="4"/><rect x="865" y="178" width="1" height="39"/><rect x="883" y="369" width="1" height="4"/><rect x="885" y="359" width="1" height="8"/><rect x="891" y="351" width="1" height="10"/><rect x="898" y="357" width="1" height="3"/><rect x="906" y="354" width="1" height="17"/><rect x="909" y="350" width="1" height="3"/><rect x="911" y="339" width="1" height="9"/><rect x="917" y="328" width="1" height="37"/><rect x="927" y="350" width="1" height="16"/><rect x="930" y="344" width="1" height="4"/><rect x="935" y="342" width="1" height="9"/><rect x="940" y="332" width="1" height="9"/><rect x="943" y="314" width="1" height="17"/><rect x="945" y="302" width="1" height="10"/><rect x="948" y="239" width="1" height="62"/><rect x="958" y="293" width="1" height="8"/><rect x="966" y="337" width="1" height="11"/><rect x="969" y="332" width="1" height="3"/><rect x="971" y="325" width="1" height="6"/><rect x="974" y="312" width="1" height="12"/><rect x="976" y="273" width="1" height="37"/><rect x="979" y="233" width="1" height="39"/><rect x="982" y="211" width="1" height="20"/><rect x="987" y="154" width="1" height="59"/><rect x="1005" y="325" width="1" height="5"/><rect x="1008" y="306" width="1" height="18"/><rect x="1010" y="283" width="1" height="22"/><rect x="1013" y="257" width="1" height="24"/><rect x="1021" y="248" width="1" height="28"/><rect x="1026" y="257" width="1" height="12"/><rect x="1036" y="257" width="1" height="21"/><rect x="1039" y="236" width="1" height="19"/><rect x="1044" y="222" width="1" height="20"/><rect x="1054" y="258" width="1" height="9"/></g><g fill="#e05a48"><rect x="12" y="512" width="1" height="7"/><rect x="20" y="501" width="1" height="1"/><rect x="22" y="504" width="1" height="4"/><rect x="28" y="490" width="1" height="4"/><rect x="30" y="495" width="1" height="1"/><rect x="33" y="497" width="1" height="11"/><rect x="35" y="509" width="1" height="2"/><rect x="46" y="503" width="1" height="19"/><rect x="51" y="519" width="1" height="8"/><rect x="54" y="528" width="1" height="6"/><rect x="61" y="522" width="1" height="10"/><rect x="64" y="533" width="1" height="27"/><rect x="69" y="554" width="1" height="16"/><rect x="72" y="572" width="1" height="3"/><rect x="80" y="541" width="1" height="3"/><rect x="85" y="542" width="1" height="20"/><rect x="90" y="557" width="1" height="2"/><rect x="98" y="539" width="1" height="8"/><rect x="111" y="505" width="1" height="2"/><rect x="113" y="509" width="1" height="8"/><rect x="119" y="503" width="1" height="6"/><rect x="129" y="462" width="1" height="1"/><rect x="132" y="464" width="1" height="2"/><rect x="147" y="437" width="1" height="10"/><rect x="150" y="449" width="1" height="17"/><rect x="155" y="465" width="1" height="11"/><rect x="158" y="477" width="1" height="2"/><rect x="168" y="461" width="1" height="6"/><rect x="173" y="464" width="1" height="27"/><rect x="181" y="486" width="1" height="11"/><rect x="197" y="472" width="1" height="7"/><rect x="202" y="469" width="1" height="5"/><rect x="204" y="475" width="1" height="11"/><rect x="207" y="487" width="1" height="24"/><rect x="212" y="508" width="1" height="11"/><rect x="217" y="517" width="1" height="1"/><rect x="233" y="488" width="1" height="1"/><rect x="243" y="475" width="1" height="16"/><rect x="246" y="493" width="1" height="5"/><rect x="249" y="499" width="1" height="19"/><rect x="267" y="478" width="1" height="3"/><rect x="275" y="470" width="1" height="5"/><rect x="280" y="475" width="1" height="7"/><rect x="285" y="474" width="1" height="13"/><rect x="288" y="488" width="1" height="8"/><rect x="290" y="496" width="1" height="1"/><rect x="293" y="498" width="1" height="3"/><rect x="295" y="502" width="1" height="3"/><rect x="308" y="481" width="1" height="13"/><rect x="316" y="465" width="1" height="4"/><rect x="321" y="450" width="1" height="8"/><rect x="327" y="459" width="1" height="6"/><rect x="332" y="448" width="1" height="12"/><rect x="345" y="419" width="1" height="18"/><rect x="350" y="434" width="1" height="8"/><rect x="353" y="443" width="1" height="5"/><rect x="355" y="450" width="1" height="6"/><rect x="358" y="457" width="1" height="4"/><rect x="368" y="454" width="1" height="3"/><rect x="371" y="459" width="1" height="7"/><rect x="373" y="467" width="1" height="3"/><rect x="376" y="472" width="1" height="4"/><rect x="379" y="477" width="1" height="1"/><rect x="384" y="475" width="1" height="1"/><rect x="386" y="477" width="1" height="7"/><rect x="389" y="485" width="1" height="12"/><rect x="394" y="491" width="1" height="3"/><rect x="397" y="496" width="1" height="3"/><rect x="405" y="491" width="1" height="6"/><rect x="420" y="491" width="1" height="1"/><rect x="425" y="490" width="1" height="11"/><rect x="428" y="502" width="1" height="4"/><rect x="457" y="478" width="1" height="2"/><rect x="462" y="475" width="1" height="1"/><rect x="472" y="460" width="1" height="3"/><rect x="483" y="455" width="1" height="1"/><rect x="485" y="458" width="1" height="1"/><rect x="490" y="455" width="1" height="2"/><rect x="506" y="435" width="1" height="10"/><rect x="509" y="447" width="1" height="3"/><rect x="514" y="453" width="1" height="4"/><rect x="524" y="451" width="1" height="6"/><rect x="558" y="410" width="1" height="13"/><rect x="563" y="422" width="1" height="2"/><rect x="568" y="423" width="1" height="2"/><rect x="589" y="367" width="1" height="7"/><rect x="597" y="362" width="1" height="10"/><rect x="600" y="373" width="1" height="10"/><rect x="610" y="365" width="1" height="4"/><rect x="613" y="370" width="1" height="2"/><rect x="615" y="373" width="1" height="4"/><rect x="636" y="324" width="1" height="17"/><rect x="644" y="327" width="1" height="15"/><rect x="657" y="316" width="1" height="1"/><rect x="659" y="318" width="1" height="10"/><rect x="665" y="322" width="1" height="4"/><rect x="667" y="327" width="1" height="15"/><rect x="670" y="343" width="1" height="6"/><rect x="675" y="341" width="1" height="11"/><rect x="688" y="342" width="1" height="2"/><rect x="698" y="290" width="1" height="10"/><rect x="714" y="258" width="1" height="10"/><rect x="722" y="224" width="1" height="3"/><rect x="732" y="180" width="1" height="12"/><rect x="735" y="193" width="1" height="23"/><rect x="737" y="217" width="1" height="10"/><rect x="740" y="228" width="1" height="16"/><rect x="743" y="245" width="1" height="4"/><rect x="756" y="136" width="1" height="41"/><rect x="761" y="121" width="1" height="45"/><rect x="769" y="80" width="1" height="67"/><rect x="774" y="143" width="1" height="15"/><rect x="776" y="160" width="1" height="21"/><rect x="784" y="151" width="1" height="1"/><rect x="787" y="154" width="1" height="24"/><rect x="789" y="179" width="1" height="46"/><rect x="805" y="122" width="1" height="17"/><rect x="810" y="118" width="1" height="43"/><rect x="813" y="162" width="1" height="17"/><rect x="815" y="180" width="1" height="35"/><rect x="823" y="145" width="1" height="19"/><rect x="826" y="165" width="1" height="2"/><rect x="828" y="169" width="1" height="19"/><rect x="831" y="189" width="1" height="47"/><rect x="833" y="237" width="1" height="4"/><rect x="839" y="219" width="1" height="35"/><rect x="846" y="213" width="1" height="26"/><rect x="854" y="219" width="1" height="29"/><rect x="867" y="178" width="1" height="65"/><rect x="870" y="244" width="1" height="29"/><rect x="872" y="274" width="1" height="35"/><rect x="875" y="311" width="1" height="15"/><rect x="878" y="328" width="1" height="1"/><rect x="880" y="330" width="1" height="43"/><rect x="888" y="359" width="1" height="2"/><rect x="893" y="351" width="1" height="5"/><rect x="896" y="357" width="1" height="3"/><rect x="901" y="357" width="1" height="3"/><rect x="904" y="361" width="1" height="10"/><rect x="914" y="339" width="1" height="26"/><rect x="919" y="328" width="1" height="3"/><rect x="922" y="333" width="1" height="5"/><rect x="924" y="339" width="1" height="26"/><rect x="932" y="344" width="1" height="7"/><rect x="950" y="239" width="1" height="58"/><rect x="953" y="298" width="1" height="3"/><rect x="961" y="293" width="1" height="33"/><rect x="963" y="328" width="1" height="19"/><rect x="984" y="211" width="1" height="2"/><rect x="989" y="154" width="1" height="56"/><rect x="992" y="211" width="1" height="43"/><rect x="995" y="255" width="1" height="33"/><rect x="997" y="289" width="1" height="8"/><rect x="1000" y="298" width="1" height="20"/><rect x="1002" y="319" width="1" height="11"/><rect x="1015" y="257" width="1" height="13"/><rect x="1018" y="271" width="1" height="5"/><rect x="1023" y="248" width="1" height="21"/><rect x="1031" y="258" width="1" height="9"/><rect x="1034" y="269" width="1" height="9"/><rect x="1041" y="236" width="1" height="6"/><rect x="1047" y="222" width="1" height="12"/><rect x="1049" y="236" width="1" height="24"/><rect x="1052" y="262" width="1" height="5"/></g></g></g>
<g clip-path="url(#cs)">
<line x1="0" y1="654.5" x2="1224" y2="654.5" stroke="#505050" stroke-dasharray="5 6"/>
<line x1="0" y1="685.5" x2="1224" y2="685.5" stroke="#505050" stroke-dasharray="5 6"/>
<path d="M-0.94 660.73 L1.66 658.13 L4.25 653.38 L6.85 648.28 L9.45 645.30 L12.05 646.82 L14.65 651.13 L17.25 655.89 L19.85 657.43 L22.45 658.83 L25.05 660.04 L27.65 663.59 L30.25 667.57 L32.85 673.59 L35.45 680.77 L38.05 687.78 L40.65 690.60 L43.25 690.22 L45.85 687.68 L48.45 687.82 L51.05 689.50 L53.65 691.63 L56.24 692.29 L58.84 691.14 L61.44 689.52 L64.04 688.80 L66.64 689.30 L69.24 690.42 L71.84 691.00 L74.44 689.71 L77.04 686.20 L79.64 679.08 L82.24 670.06 L84.84 663.34 L87.44 661.52 L90.04 664.35 L92.64 666.11 L95.24 665.59 L97.84 660.97 L100.44 654.54 L103.04 649.05 L105.64 645.83 L108.23 644.68 L110.83 644.45 L113.43 645.49 L116.03 647.55 L118.63 649.54 L121.23 649.98 L123.83 648.82 L126.43 646.05 L129.03 644.50 L131.63 644.35 L134.23 645.20 L136.83 645.44 L139.43 644.96 L142.03 644.39 L144.63 644.23 L147.23 646.40 L149.83 651.34 L152.43 661.97 L155.03 675.88 L157.63 687.34 L160.22 692.66 L162.82 691.12 L165.42 687.78 L168.02 684.35 L170.62 682.36 L173.22 683.20 L175.82 685.31 L178.42 688.39 L181.02 690.37 L183.62 691.02 L186.22 688.30 L188.82 681.99 L191.42 673.88 L194.02 666.34 L196.62 662.40 L199.22 660.88 L201.82 662.20 L204.42 664.40 L207.02 670.65 L209.62 678.98 L212.22 687.66 L214.81 691.60 L217.41 692.92 L220.01 689.95 L222.61 684.76 L225.21 675.10 L227.81 666.71 L230.41 659.57 L233.01 656.57 L235.61 653.85 L238.21 651.56 L240.81 647.87 L243.41 648.05 L246.01 652.61 L248.61 664.14 L251.21 674.52 L253.81 682.48 L256.41 681.80 L259.01 677.53 L261.61 668.67 L264.20 660.66 L266.80 653.93 L269.40 651.07 L272.00 650.01 L274.60 649.76 L277.20 649.33 L279.80 651.28 L282.40 653.25 L285.00 658.04 L287.60 663.92 L290.20 674.67 L292.80 684.61 L295.40 692.14 L298.00 692.22 L300.60 687.12 L303.20 677.39 L305.80 668.82 L308.40 664.36 L311.00 662.13 L313.60 659.97 L316.19 654.12 L318.79 650.01 L321.39 648.31 L323.99 649.55 L326.59 652.88 L329.19 654.53 L331.79 657.59 L334.39 658.80 L336.99 661.12 L339.59 658.98 L342.19 654.30 L344.79 652.46 L347.39 657.01 L349.99 669.15 L352.59 679.56 L355.19 688.48 L357.79 692.54 L360.39 694.94 L362.99 695.07 L365.59 693.69 L368.18 692.24 L370.78 691.11 L373.38 692.13 L375.98 693.72 L378.58 695.15 L381.18 694.80 L383.78 693.55 L386.38 692.30 L388.98 692.45 L391.58 692.23 L394.18 691.13 L396.78 688.95 L399.38 687.31 L401.98 684.84 L404.58 681.19 L407.18 677.68 L409.78 673.18 L412.38 666.58 L414.98 656.56 L417.58 649.43 L420.17 647.16 L422.77 648.53 L425.37 653.38 L427.97 661.42 L430.57 672.68 L433.17 678.89 L435.77 677.64 L438.37 670.18 L440.97 661.31 L443.57 653.20 L446.17 647.91 L448.77 645.44 L451.37 644.86 L453.97 644.87 L456.57 645.99 L459.17 647.69 L461.77 649.16 L464.37 648.41 L466.97 647.27 L469.57 645.40 L472.16 645.87 L474.76 647.40 L477.36 649.55 L479.96 649.28 L482.56 648.62 L485.16 650.31 L487.76 654.30 L490.36 659.42 L492.96 662.33 L495.56 664.31 L498.16 664.75 L500.76 665.02 L503.36 663.89 L505.96 665.03 L508.56 669.14 L511.16 680.20 L513.76 689.20 L516.36 695.21 L518.96 694.77 L521.56 692.59 L524.15 690.40 L526.75 688.62 L529.35 688.02 L531.95 684.75 L534.55 680.65 L537.15 676.65 L539.75 672.49 L542.35 665.99 L544.95 655.90 L547.55 648.42 L550.15 644.48 L552.75 644.33 L555.35 644.40 L557.95 647.41 L560.55 653.89 L563.15 665.16 L565.75 674.94 L568.35 683.22 L570.95 685.98 L573.55 685.70 L576.14 679.67 L578.74 670.94 L581.34 660.56 L583.94 652.31 L586.54 646.93 L589.14 646.67 L591.74 649.73 L594.34 654.39 L596.94 658.50 L599.54 664.76 L602.14 673.25 L604.74 681.45 L607.34 684.21 L609.94 684.25 L612.54 683.96 L615.14 687.19 L617.74 689.99 L620.34 690.52 L622.94 685.35 L625.54 677.29 L628.13 668.07 L630.73 660.80 L633.33 654.20 L635.93 652.96 L638.53 657.50 L641.13 666.64 L643.73 674.46 L646.33 679.43 L648.93 683.07 L651.53 682.62 L654.13 679.02 L656.73 673.83 L659.33 673.97 L661.93 678.03 L664.53 684.86 L667.13 689.22 L669.73 692.85 L672.33 693.09 L674.93 693.13 L677.53 692.09 L680.12 692.70 L682.72 693.02 L685.32 691.75 L687.92 689.19 L690.52 685.40 L693.12 679.06 L695.72 668.87 L698.32 657.75 L700.92 651.51 L703.52 649.79 L706.12 649.21 L708.72 647.12 L711.32 645.02 L713.92 645.63 L716.52 646.99 L719.12 648.35 L721.72 647.48 L724.32 646.62 L726.92 645.76 L729.52 645.20 L732.12 646.85 L734.71 654.21 L737.31 667.83 L739.91 682.76 L742.51 691.99 L745.11 693.91 L747.71 690.13 L750.31 682.10 L752.91 673.08 L755.51 666.78 L758.11 665.82 L760.71 670.43 L763.31 674.27 L765.91 676.17 L768.51 675.17 L771.11 675.12 L773.71 679.51 L776.31 684.82 L778.91 690.37 L781.51 691.75 L784.11 691.11 L786.70 689.79 L789.30 690.16 L791.90 692.15 L794.50 693.12 L797.10 692.06 L799.70 689.28 L802.30 682.33 L804.90 672.72 L807.50 660.00 L810.10 655.03 L812.70 656.26 L815.30 667.04 L817.90 675.80 L820.50 680.17 L823.10 676.68 L825.70 672.17 L828.30 671.91 L830.90 676.81 L833.50 684.32 L836.10 689.46 L838.69 691.92 L841.29 690.50 L843.89 687.35 L846.49 682.93 L849.09 680.17 L851.69 679.04 L854.29 679.40 L856.89 677.58 L859.49 674.84 L862.09 667.23 L864.69 659.39 L867.29 654.43 L869.89 659.62 L872.49 672.79 L875.09 685.69 L877.69 693.34 L880.29 695.27 L882.89 695.25 L885.49 694.24 L888.09 692.57 L890.68 690.16 L893.28 688.18 L895.88 686.59 L898.48 686.06 L901.08 685.12 L903.68 683.91 L906.28 678.10 L908.88 669.11 L911.48 656.45 L914.08 650.71 L916.68 648.88 L919.28 651.67 L921.88 650.62 L924.48 652.64 L927.08 655.19 L929.68 659.06 L932.28 658.31 L934.88 655.67 L937.48 652.70 L940.08 649.77 L942.67 647.40 L945.27 645.16 L947.87 644.44 L950.47 646.97 L953.07 652.90 L955.67 661.82 L958.27 667.68 L960.87 672.25 L963.47 676.55 L966.07 683.44 L968.67 688.58 L971.27 689.74 L973.87 687.20 L976.47 681.85 L979.07 673.92 L981.67 663.52 L984.27 654.12 L986.87 647.91 L989.47 647.85 L992.07 653.14 L994.66 663.82 L997.26 674.75 L999.86 684.03 L1002.46 689.51 L1005.06 692.91 L1007.66 693.57 L1010.26 691.71 L1012.86 687.20 L1015.46 682.51 L1018.06 679.32 L1020.66 678.04 L1023.26 676.70 L1025.86 672.19 L1028.46 665.60 L1031.06 659.19 L1033.66 657.96 L1036.26 659.02 L1038.86 659.09 L1041.46 655.33 L1044.06 650.59 L1046.65 649.69 L1049.25 654.95 L1051.85 666.88 L1054.45 679.41" fill="none" stroke="#ff6d00" stroke-width="1"/><path d="M-0.94 659.40 L1.66 653.58 L4.25 647.15 L6.85 644.11 L9.45 644.65 L12.05 651.69 L14.65 657.06 L17.25 658.91 L19.85 656.31 L22.45 661.27 L25.05 662.54 L27.65 666.96 L30.25 673.20 L32.85 680.61 L35.45 688.50 L38.05 694.24 L40.65 689.07 L43.25 687.35 L45.85 686.61 L48.45 689.50 L51.05 692.38 L53.65 693.00 L56.24 691.48 L58.84 688.93 L61.44 688.15 L64.04 689.31 L66.64 690.44 L69.24 691.52 L71.84 691.03 L74.44 686.59 L77.04 680.98 L79.64 669.67 L82.24 659.52 L84.84 660.82 L87.44 664.23 L90.04 667.99 L92.64 666.11 L95.24 662.68 L97.84 654.13 L100.44 646.80 L103.04 646.21 L105.64 644.47 L108.23 643.36 L110.83 645.52 L113.43 647.60 L116.03 649.54 L118.63 651.48 L121.23 648.92 L123.83 646.05 L126.43 643.19 L129.03 644.25 L131.63 645.60 L134.23 645.76 L136.83 644.96 L139.43 644.16 L142.03 644.04 L144.63 644.49 L147.23 650.67 L149.83 658.86 L152.43 676.39 L155.03 692.40 L157.63 693.23 L160.22 692.35 L162.82 687.78 L165.42 683.21 L168.02 682.07 L170.62 681.79 L173.22 685.73 L175.82 688.42 L178.42 691.02 L181.02 691.65 L183.62 690.38 L186.22 682.88 L188.82 672.71 L191.42 666.05 L194.02 660.25 L196.62 660.88 L199.22 661.51 L201.82 664.22 L204.42 667.48 L207.02 680.25 L209.62 689.20 L212.22 693.53 L214.81 692.06 L217.41 693.17 L220.01 684.63 L222.61 676.48 L225.21 664.19 L227.81 659.45 L230.41 655.07 L233.01 655.18 L235.61 651.31 L238.21 648.20 L240.81 644.10 L243.41 651.86 L246.01 661.86 L248.61 678.70 L251.21 683.01 L253.81 685.75 L256.41 676.65 L259.01 670.18 L261.61 659.18 L264.20 652.62 L266.80 649.99 L269.40 650.61 L272.00 649.43 L274.60 649.25 L277.20 649.32 L279.80 655.28 L282.40 655.14 L285.00 663.71 L287.60 672.91 L290.20 687.39 L292.80 693.53 L295.40 695.50 L298.00 687.63 L300.60 678.24 L303.20 666.31 L305.80 661.90 L308.40 664.85 L311.00 659.65 L313.60 655.40 L316.19 647.32 L318.79 647.32 L321.39 650.28 L323.99 651.06 L326.59 657.30 L329.19 655.24 L331.79 660.24 L334.39 660.92 L336.99 662.20 L339.59 653.81 L342.19 646.88 L344.79 656.67 L347.39 667.46 L349.99 683.32 L352.59 687.89 L355.19 694.23 L357.79 695.50 L360.39 695.09 L362.99 694.61 L365.59 691.38 L368.18 690.73 L370.78 691.21 L373.38 694.44 L375.98 695.50 L378.58 695.50 L381.18 693.40 L383.78 691.75 L386.38 691.75 L388.98 693.85 L391.58 691.10 L394.18 688.45 L396.78 687.29 L399.38 686.19 L401.98 681.04 L404.58 676.36 L407.18 675.66 L409.78 667.52 L412.38 656.55 L414.98 645.61 L417.58 646.13 L420.17 649.73 L422.77 649.73 L425.37 660.66 L427.97 673.87 L430.57 683.49 L433.17 679.30 L435.77 670.14 L438.37 661.11 L440.97 652.66 L443.57 645.83 L446.17 645.24 L448.77 645.24 L451.37 644.10 L453.97 645.26 L456.57 648.61 L459.17 649.20 L461.77 649.69 L464.37 646.35 L466.97 645.76 L469.57 644.10 L472.16 647.74 L474.76 650.37 L477.36 650.55 L479.96 646.91 L482.56 648.40 L485.16 655.62 L487.76 658.89 L490.36 663.74 L492.96 664.36 L495.56 664.83 L498.16 665.06 L500.76 665.17 L503.36 661.44 L505.96 668.49 L508.56 677.49 L511.16 694.62 L513.76 695.50 L516.36 695.50 L518.96 693.32 L521.56 688.93 L524.15 688.93 L526.75 687.99 L529.35 687.14 L531.95 679.14 L534.55 675.68 L537.15 675.14 L539.75 666.64 L542.35 656.20 L544.95 644.84 L547.55 644.21 L550.15 644.40 L552.75 644.40 L555.35 644.40 L557.95 653.44 L560.55 663.84 L563.15 678.19 L565.75 682.79 L568.35 688.69 L570.95 686.45 L573.55 681.96 L576.14 670.61 L578.74 660.25 L581.34 650.81 L583.94 645.87 L586.54 644.10 L589.14 650.04 L591.74 655.04 L594.34 658.09 L596.94 662.38 L599.54 673.81 L602.14 683.55 L604.74 687.00 L607.34 682.07 L609.94 683.68 L612.54 686.13 L615.14 691.77 L617.74 692.06 L620.34 687.73 L622.94 676.25 L625.54 667.89 L628.13 660.08 L630.73 654.43 L633.33 648.10 L635.93 656.35 L638.53 668.04 L641.13 675.54 L643.73 679.81 L646.33 682.95 L648.93 686.45 L651.53 678.47 L654.13 672.13 L656.73 670.89 L659.33 678.89 L661.93 684.31 L664.53 691.38 L667.13 691.97 L669.73 695.20 L672.33 692.09 L674.93 692.09 L677.53 692.09 L680.12 693.93 L682.72 693.02 L685.32 688.28 L687.92 686.26 L690.52 681.65 L693.12 669.25 L695.72 655.71 L698.32 648.28 L700.92 650.55 L703.52 650.55 L706.12 646.53 L708.72 644.27 L711.32 644.27 L713.92 648.35 L716.52 648.35 L719.12 648.35 L721.72 645.76 L724.32 645.76 L726.92 645.76 L729.52 644.10 L732.12 650.69 L734.71 667.83 L737.31 684.96 L739.91 695.50 L742.51 695.50 L745.11 690.73 L747.71 684.17 L750.31 671.38 L752.91 663.68 L755.51 665.27 L758.11 668.50 L760.71 677.53 L763.31 676.80 L765.91 674.19 L768.51 674.52 L771.11 676.65 L773.71 687.36 L776.31 690.47 L778.91 693.29 L781.51 691.48 L784.11 688.57 L786.70 689.32 L789.30 692.59 L791.90 694.55 L794.50 692.23 L797.10 689.41 L799.70 686.20 L802.30 671.39 L804.90 660.57 L807.50 648.05 L810.10 656.46 L812.70 664.27 L815.30 680.39 L817.90 682.74 L820.50 677.39 L823.10 669.92 L825.70 669.19 L828.30 676.61 L830.90 684.63 L833.50 691.73 L836.10 692.02 L838.69 692.02 L841.29 687.47 L843.89 682.57 L846.49 678.76 L849.09 679.17 L851.69 679.19 L854.29 679.85 L856.89 673.69 L859.49 670.99 L862.09 657.00 L864.69 650.17 L867.29 656.12 L869.89 672.56 L872.49 689.70 L875.09 694.81 L877.69 695.50 L880.29 695.50 L882.89 694.74 L885.49 692.48 L888.09 690.50 L890.68 687.50 L893.28 686.56 L895.88 685.72 L898.48 685.92 L901.08 683.73 L903.68 682.07 L906.28 668.49 L908.88 656.75 L911.48 644.10 L914.08 651.26 L916.68 651.26 L919.28 652.48 L921.88 648.12 L924.48 657.33 L927.08 660.12 L929.68 659.73 L932.28 655.07 L934.88 652.22 L937.48 650.82 L940.08 646.26 L942.67 645.11 L945.27 644.10 L947.87 644.10 L950.47 652.71 L953.07 661.90 L955.67 670.86 L958.27 670.29 L960.87 675.59 L963.47 683.77 L966.07 690.96 L968.67 691.00 L971.27 687.26 L973.87 683.34 L976.47 674.95 L979.07 663.46 L981.67 652.15 L984.27 646.75 L986.87 644.83 L989.47 651.95 L992.07 662.63 L994.66 676.88 L997.26 684.74 L999.86 690.46 L1002.46 693.34 L1005.06 694.92 L1007.66 692.44 L1010.26 687.76 L1012.86 681.41 L1015.46 678.38 L1018.06 678.17 L1020.66 677.59 L1023.26 674.35 L1025.86 664.64 L1028.46 657.81 L1031.06 655.11 L1033.66 660.94 L1036.26 661.01 L1038.86 655.33 L1041.46 649.65 L1044.06 646.79 L1046.65 652.63 L1049.25 665.44 L1051.85 682.57 L1054.45 690.23" fill="none" stroke="#2196f3" stroke-width="1"/>
<rect x="0" y="654" width="1224" height="31" fill="rgb(145,25,240)" fill-opacity="0.2"/></g>
</svg>
<div class="topb"></div>
<div class="title">CFDs on Natural Gas <span style="color:#a3a6b4">·</span> 1D</div>
<div class="btn"><svg width="10" height="6" viewBox="0 0 10 6"><path d="M0.8 1.3 L4.9 5 L9 1.3" fill="none" stroke="#131722" stroke-width="1.4"/></svg><span class="n">2</span></div>
<div class="vax"></div><div class="h1"></div><div class="h2"></div>
<div class="pl" style="top:48.0px">6.500</div><div class="pl" style="top:103.7px">6.000</div><div class="pl" style="top:159.4px">5.500</div><div class="pl" style="top:215.1px">5.000</div><div class="pl" style="top:270.8px">4.500</div><div class="pl" style="top:326.5px">4.000</div><div class="pl" style="top:382.2px">3.500</div><div class="pl" style="top:437.9px">3.000</div><div class="pl" style="top:493.6px">2.500</div><div class="pl" style="top:549.3px">2.000</div><div class="pl" style="top:605.0px">1.500</div><div class="bd" style="top:135.2px;background:#b2232f">5.710</div><div class="bd" style="top:219.0px;background:#b2232f">4.954</div><div class="bd" style="top:249.3px;background:#6aa784">4.688</div><div class="bd" style="top:301.3px;background:#1b5e20">4.214</div>
<div class="usd"><span>USD</span><svg width="7" height="5" viewBox="0 0 7 5" style="position:absolute;left:27px;top:6px"><path d="M0.8 1 L3.5 3.4 L6.2 1" fill="none" stroke="#3c3f4a" stroke-width="1.2"/></svg></div>
<div class="sl" style="top:637px">100.00</div>
<div class="sl" style="top:688px">0.00</div>
<div class="tl" style="left:13px">Sep</div><div class="tl" style="left:127px">Nov</div><div class="tl" style="left:239px;font-weight:bold;color:#3d3d3d">2021</div><div class="tl" style="left:343px">Mar</div><div class="tl" style="left:457px">May</div><div class="tl" style="left:571px">Jul</div><div class="tl" style="left:684px">Sep</div><div class="tl" style="left:796px">Nov</div><div class="tl" style="left:910px;font-weight:bold;color:#3d3d3d">2022</div><div class="tl" style="left:1015px">Mar</div><div class="tl" style="left:1130px">May</div>
<svg width="48" height="44" viewBox="0 658 48 44" style="position:absolute;left:0;top:658px"><circle cx="23.5" cy="679.2" r="16.3" fill="#fff" stroke="#dcd8e4" stroke-width="0.9"/><path d="M13 674H21.6V684.8H18V678H13Z" fill="#131722"/><circle cx="24.9" cy="676.2" r="1.75" fill="#131722"/><path d="M30.1 674H34.1L29.8 684.8H25.1Z" fill="#131722"/></svg>
<svg width="26" height="24" viewBox="0 0 26 24" style="position:absolute;left:1240px;top:704px"><circle cx="12.5" cy="11.5" r="4.9" fill="none" stroke="#131722" stroke-width="1.2"/><g fill="#131722" shape-rendering="crispEdges"><rect x="12" y="4" width="1" height="2.5"/><rect x="12" y="16.5" width="1" height="2.5"/><rect x="5" y="11" width="2.5" height="1"/><rect x="17.5" y="11" width="2.5" height="1"/></g><g fill="#131722"><circle cx="7.4" cy="6.4" r="0.75"/><circle cx="17.6" cy="6.4" r="0.75"/><circle cx="7.4" cy="16.6" r="0.75"/><circle cx="17.6" cy="16.6" r="0.75"/></g></svg>
</div></body></html>
